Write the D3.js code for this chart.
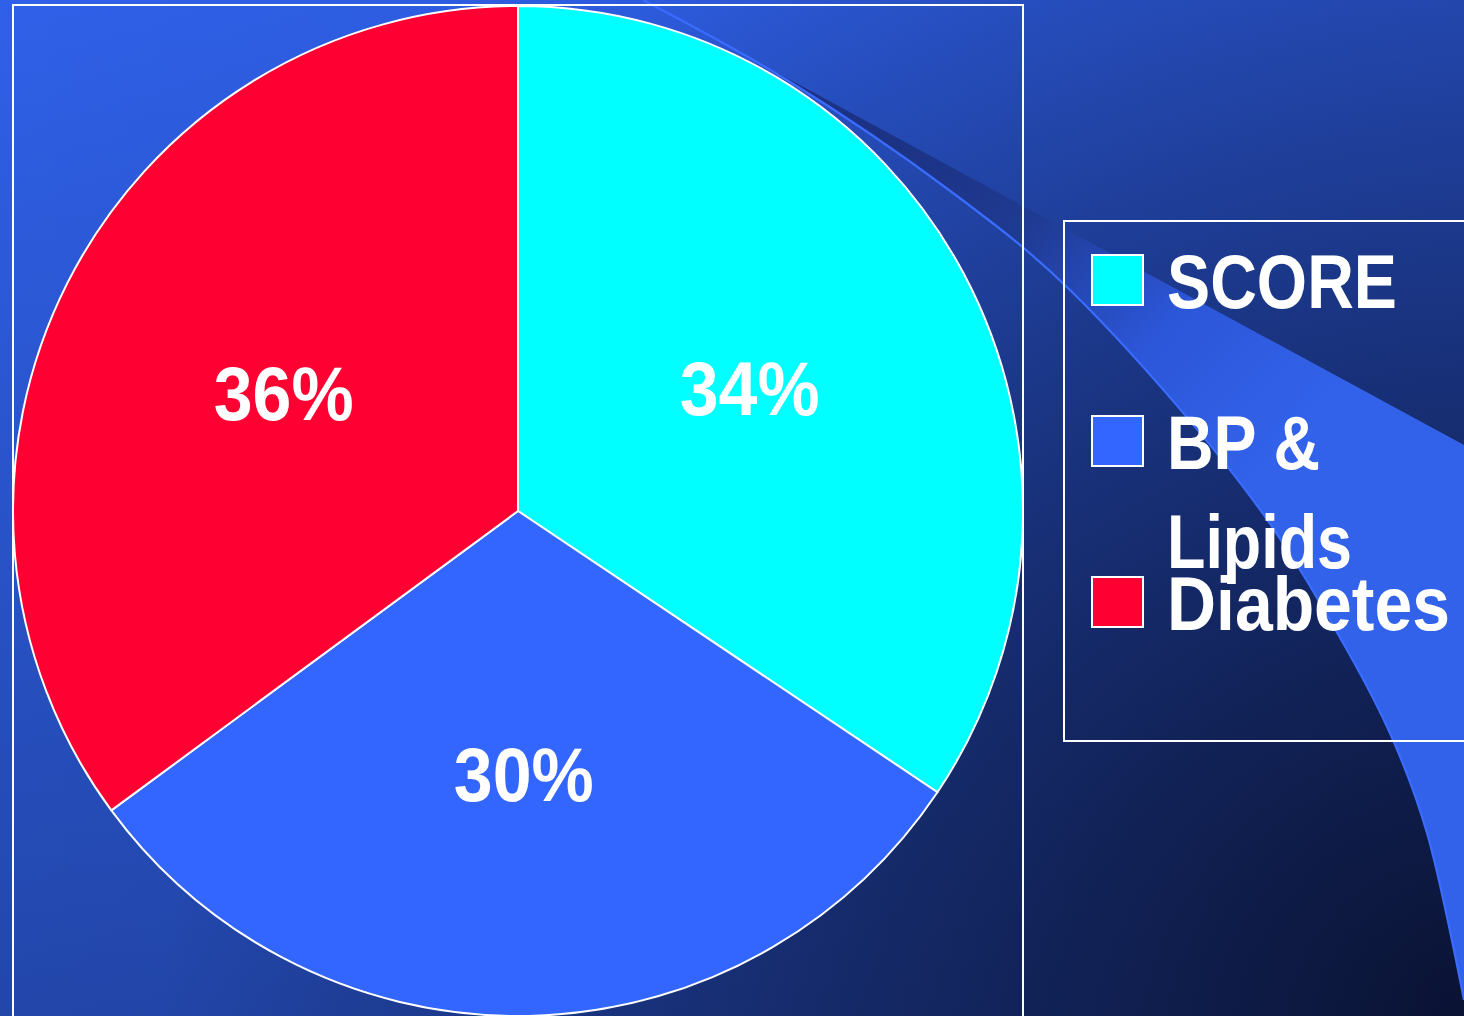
<!DOCTYPE html>
<html>
<head>
<meta charset="utf-8">
<script src="https://cdn.jsdelivr.net/npm/d3@7"></script>
<style>
  html, body { margin: 0; padding: 0; background: #1a2f80; overflow: hidden; }
  svg { display: block; }
</style>
</head>
<body>
<svg id="chart" width="1464" height="1016"></svg>
<script>
// ---- data ----
const categories = ["SCORE", "BP & Lipids", "Diabetes"];
const shares = [34.4, 30.5, 35.1];           // slice sizes
const pctLabels = ["34%", "30%", "36%"];      // labels as printed
const sliceColors = ["#00ffff", "#3366ff", "#ff0033"];
const legendLines = [["SCORE"], ["BP &", "Lipids"], ["Diabetes"]];

// decorative background swoosh (not data)
const swooshCurve = [[1464,1000],[1427,833],[1393,740],[1347,650],[1253,500],[1070,290],[953,193],[787,80],[643,0]];

const W = 1464, H = 1016;
const svg = d3.select("#chart");
const defs = svg.append("defs");

// background gradients
const g1 = defs.append("linearGradient").attr("id","bgV").attr("x1",0).attr("y1",0).attr("x2",0).attr("y2",1);
g1.append("stop").attr("offset",0).attr("stop-color","#2f60e8");
g1.append("stop").attr("offset",1).attr("stop-color","#2246aa");
const g2 = defs.append("linearGradient").attr("id","bgH").attr("x1",0).attr("y1",0).attr("x2",1).attr("y2",0);
g2.append("stop").attr("offset",0).attr("stop-color","#0a143c").attr("stop-opacity",0);
g2.append("stop").attr("offset",1).attr("stop-color","#0a143c").attr("stop-opacity",0.15);
const g3 = defs.append("radialGradient").attr("id","bgR").attr("gradientUnits","userSpaceOnUse")
  .attr("cx",W).attr("cy",H).attr("r",1300);
g3.append("stop").attr("offset",0).attr("stop-color","#080e28").attr("stop-opacity",0.9);
g3.append("stop").attr("offset",0.5).attr("stop-color","#080e28").attr("stop-opacity",0.45);
g3.append("stop").attr("offset",1).attr("stop-color","#080e28").attr("stop-opacity",0);
const g4 = defs.append("linearGradient").attr("id","band").attr("gradientUnits","userSpaceOnUse")
  .attr("x1",900).attr("y1",150).attr("x2",1250).attr("y2",480);
g4.append("stop").attr("offset",0).attr("stop-color","#1c3385");
g4.append("stop").attr("offset",0.3).attr("stop-color","#1f3a92");
g4.append("stop").attr("offset",0.65).attr("stop-color","#2c56d8");
g4.append("stop").attr("offset",1).attr("stop-color","#3262ea");

svg.append("rect").attr("width",W).attr("height",H).attr("fill","url(#bgV)");
svg.append("rect").attr("width",W).attr("height",H).attr("fill","url(#bgH)");
svg.append("rect").attr("width",W).attr("height",H).attr("fill","url(#bgR)");

// swoosh band
const curveGen = d3.line().curve(d3.curveCatmullRom.alpha(0.5));
const curvePath = curveGen(swooshCurve);
svg.append("path")
  .attr("d", "M643,0 L1464,445 L1464,1000 " + curvePath.replace(/^M[^CL]*/, "L1464,1000 ") + " Z")
  .attr("fill","url(#band)");
svg.append("path").attr("d", curvePath).attr("fill","none")
  .attr("stroke","#3a6cff").attr("stroke-width",2.2);

// frame
svg.append("rect").attr("x",13).attr("y",5).attr("width",1010).attr("height",1040)
  .attr("fill","none").attr("stroke","#ffffff").attr("stroke-width",2);

// legend box
svg.append("rect").attr("x",1064).attr("y",221).attr("width",420).attr("height",520)
  .attr("fill","none").attr("stroke","#ffffff").attr("stroke-width",2);

// pie
const cx = 518, cy = 511, R = 505;
const pie = d3.pie().sort(null).value(d => d).startAngle(0).endAngle(2*Math.PI);
const arcs = pie(shares);
const arc = d3.arc().innerRadius(0).outerRadius(R);
const labelArc = d3.arc().innerRadius(0).outerRadius(R * 1.04);
const gp = svg.append("g").attr("transform", `translate(${cx},${cy})`);
gp.selectAll("path.slice").data(arcs).join("path")
  .attr("class","slice")
  .attr("d", arc)
  .attr("fill", (d,i) => sliceColors[i])
  .attr("stroke","#ffffff").attr("stroke-width",2).attr("stroke-linejoin","round");

const fontFam = "'Comic Sans MS', 'Liberation Sans', Arial, sans-serif";
gp.selectAll("text.pct").data(arcs).join("text")
  .attr("class","pct")
  .attr("x", d => labelArc.centroid(d)[0])
  .attr("y", d => labelArc.centroid(d)[1])
  .attr("dy","0.36em")
  .attr("text-anchor","middle")
  .attr("font-family", fontFam).attr("font-weight","bold")
  .attr("font-size", 76)
  .attr("textLength", 140).attr("lengthAdjust","spacingAndGlyphs")
  .attr("fill","#ffffff")
  .text((d,i) => pctLabels[i]);

// legend
const legendY = d3.scalePoint().domain(categories).range([255, 577]);
const lg = svg.append("g");
const items = lg.selectAll("g.item").data(categories).join("g").attr("class","item")
  .attr("transform", d => `translate(1092,${legendY(d)})`);
items.append("rect").attr("x",0).attr("y",0).attr("width",51).attr("height",50)
  .attr("fill", (d,i) => sliceColors[i]).attr("stroke","#ffffff").attr("stroke-width",2);
const lineWidths = {"SCORE":230, "BP &":153, "Lipids":185, "Diabetes":283};
items.each(function(d, i) {
  const g = d3.select(this);
  legendLines[i].forEach((ln, j) => {
    g.append("text")
      .attr("x", 75).attr("y", 53 + j*99)
      .attr("font-family", fontFam).attr("font-weight","bold")
      .attr("font-size", 76)
      .attr("textLength", lineWidths[ln]).attr("lengthAdjust","spacingAndGlyphs")
      .attr("fill","#ffffff")
      .text(ln);
  });
});
</script>
</body>
</html>
